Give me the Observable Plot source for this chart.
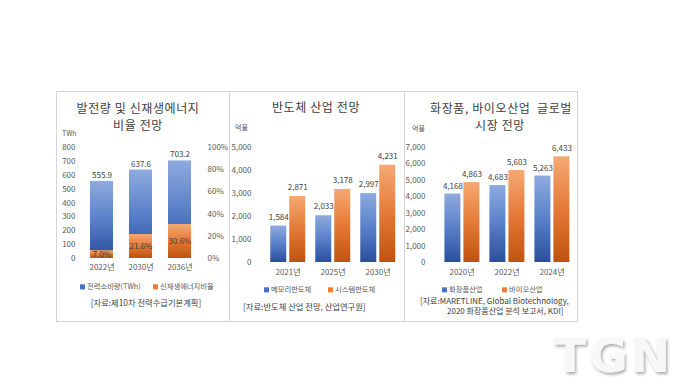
<!DOCTYPE html>
<html><head><meta charset="utf-8">
<script src="https://cdn.jsdelivr.net/npm/d3@7"></script>
<script src="https://cdn.jsdelivr.net/npm/@observablehq/plot@0.6"></script>
<style>
body{margin:0;background:#fff;width:700px;height:392px;position:relative;overflow:hidden;font-family:"Noto Sans CJK KR","Noto Sans",sans-serif;color:#404040}
.panel{position:absolute;border:1px solid #d4d4d4;box-sizing:border-box;background:#fff}
.t{position:absolute;white-space:nowrap;line-height:1}
.plot{position:absolute}
.sq{display:inline-block;width:5px;height:5px;margin-right:2px;vertical-align:middle;position:relative;top:-1px}
</style></head>
<body>
<svg width="0" height="0" style="position:absolute">
  <defs>
    <linearGradient id="gBlue" x1="0" y1="0" x2="0" y2="1">
      <stop offset="0" stop-color="#8eabdf"/>
      <stop offset="0.5" stop-color="#5a80c8"/>
      <stop offset="1" stop-color="#2a4e9c"/>
    </linearGradient>
    <linearGradient id="gOrange" x1="0" y1="0" x2="0" y2="1">
      <stop offset="0" stop-color="#f5a973"/>
      <stop offset="0.5" stop-color="#e47a38"/>
      <stop offset="1" stop-color="#bf520e"/>
    </linearGradient>
  </defs>
</svg>
<div class="panel" style="left:56px;top:91px;width:174px;height:231px"></div>
<div class="panel" style="left:229px;top:91px;width:176px;height:231px"></div>
<div class="panel" style="left:404px;top:91px;width:174px;height:231px"></div>
<script>
// ---- data ----
const years1 = ["2022년", "2030년", "2036년"];
const power = [555.9, 637.6, 703.2];          // TWh
const renewShare = [7.0, 21.6, 30.6];         // %
const ticks1L = [0, 100, 200, 300, 400, 500, 600, 700, 800];
const ticks1R = [0, 20, 40, 60, 80, 100];

const years2 = ["2021년", "2025년", "2030년"];
const series2 = ["메모리반도체", "시스템반도체"];
const memory = [1584, 2033, 2997];
const systemSemi = [2871, 3178, 4231];
const ticks2 = [0, 1000, 2000, 3000, 4000, 5000];

const years3 = ["2020년", "2022년", "2024년"];
const series3 = ["화장품산업", "바이오산업"];
const cosmetics = [4168, 4683, 5263];
const bio = [4863, 5603, 6433];
const ticks3 = [0, 1000, 2000, 3000, 4000, 5000, 6000, 7000];

const FONT = '"Noto Sans CJK KR","Noto Sans",sans-serif';
const comma = d3.format(",");

function place(html, x, y, opt = {}) {
  const el = document.createElement("div");
  el.className = "t";
  el.innerHTML = html;
  el.style.left = x + "px";
  el.style.top = y + "px";
  el.style.fontSize = (opt.size || 8) + "px";
  el.style.color = opt.color || "#404040";
  if (opt.ls) el.style.letterSpacing = opt.ls + "px";
  const tx = opt.anchor === "middle" ? "-50%" : opt.anchor === "end" ? "-100%" : "0";
  el.style.transform = `translate(${tx},-50%)`;
  document.body.appendChild(el);
}
function mount(svg, left, top) {
  const wrap = document.createElement("div");
  wrap.className = "plot";
  wrap.style.left = left + "px";
  wrap.style.top = top + "px";
  wrap.appendChild(svg);
  document.body.appendChild(wrap);
}
const baseStyle = {background: "transparent", fontSize: "8px", color: "#595959", fontFamily: FONT, overflow: "visible"};

// ---- Panel 1 ----
const d1 = years1.map((y, i) => ({year: y, power: power[i], share: renewShare[i]}));
const dims1 = {width: 173, height: 150, marginTop: 17, marginBottom: 22, marginLeft: 26, marginRight: 30};
const p1a = Plot.plot({
  ...dims1, style: baseStyle,
  x: {domain: years1, paddingInner: 0.41, paddingOuter: 0.205, label: null, tickSize: 0, tickPadding: 6},
  y: {domain: [0, 800], ticks: ticks1L, label: null, tickSize: 0, tickPadding: 7},
  marks: [
    Plot.barY(d1, {x: "year", y: "power", fill: "url(#gBlue)"}),
    Plot.text(d1, {x: "year", y: "power", text: d => d.power.toFixed(1), dy: -6, fill: "#404040", fontSize: 8})
  ]
});
const p1b = Plot.plot({
  ...dims1, style: baseStyle,
  x: {domain: years1, paddingInner: 0.41, paddingOuter: 0.205, axis: null},
  y: {domain: [0, 100], ticks: ticks1R, axis: "right", tickFormat: d => d + "%", label: null, tickSize: 0, tickPadding: 8},
  marks: [
    Plot.barY(d1, {x: "year", y: "share", fill: "url(#gOrange)"}),
    Plot.text(d1, {x: "year", y: d => d.share / 2, text: d => d.share.toFixed(1) + "%", fill: "#404040", fontSize: 8})
  ]
});
mount(p1a, 56, 130);
mount(p1b, 56, 130);
place("발전량 및 신재생에너지", 138, 108, {size: 12, anchor: "middle", ls: 0.6});
place("비율 전망", 138, 125, {size: 12, anchor: "middle", ls: 0.6});
place("TWh", 62, 133, {size: 7, color: "#595959"});
place('<span class="sq" style="background:#4472c4"></span>전력소비량(TWh)', 80, 287, {size: 7.3, color: "#595959"});
place('<span class="sq" style="background:#ed7d31"></span>신재생에너지비율', 153, 287, {size: 7.3, color: "#595959"});
place("[자료:제10차 전력수급기본계획]", 146, 302, {size: 8.3, anchor: "middle"});

// ---- Panel 2 ----
const d2 = years2.flatMap((y, i) => [
  {year: y, series: series2[0], value: memory[i]},
  {year: y, series: series2[1], value: systemSemi[i]}
]);
const p2 = Plot.plot({
  width: 175, height: 150, marginTop: 17, marginBottom: 18, marginLeft: 34.75, marginRight: 3.75,
  style: baseStyle,
  fx: {domain: years2, paddingInner: 0.187, paddingOuter: 0.0935, axis: "bottom", label: null, tickSize: 0, tickPadding: 7},
  x: {domain: series2, paddingInner: 0.158, paddingOuter: 0.05, axis: null},
  y: {domain: [0, 5000], ticks: ticks2, tickFormat: comma, label: null, tickSize: 0, tickPadding: 18},
  marks: [
    Plot.barY(d2.filter(d => d.series === series2[0]), {fx: "year", x: "series", y: "value", fill: "url(#gBlue)"}),
    Plot.barY(d2.filter(d => d.series === series2[1]), {fx: "year", x: "series", y: "value", fill: "url(#gOrange)"}),
    Plot.text(d2, {fx: "year", x: "series", y: "value", text: d => comma(d.value), dy: -9, fill: "#404040", fontSize: 8})
  ]
});
mount(p2, 229, 130);
place("반도체 산업 전망", 316, 107, {size: 12, anchor: "middle", ls: 0.6});
place("억불", 235, 127, {size: 7, color: "#595959"});
place('<span class="sq" style="background:#4472c4"></span>메모리반도체', 264, 290, {size: 7.3, color: "#595959"});
place('<span class="sq" style="background:#ed7d31"></span>시스템반도체', 328, 290, {size: 7.3, color: "#595959"});
place("[자료:반도체 산업 전망, 산업연구원]", 243, 306, {size: 8.3});

// ---- Panel 3 ----
const d3data = years3.flatMap((y, i) => [
  {year: y, series: series3[0], value: cosmetics[i]},
  {year: y, series: series3[1], value: bio[i]}
]);
const p3 = Plot.plot({
  width: 173, height: 150, marginTop: 17, marginBottom: 18, marginLeft: 33.6, marginRight: 2.15,
  style: baseStyle,
  fx: {domain: years3, paddingInner: 0.187, paddingOuter: 0.0935, axis: "bottom", label: null, tickSize: 0, tickPadding: 7},
  x: {domain: series3, paddingInner: 0.158, paddingOuter: 0.05, axis: null},
  y: {domain: [0, 7000], ticks: ticks3, tickFormat: comma, label: null, tickSize: 0, tickPadding: 18},
  marks: [
    Plot.barY(d3data.filter(d => d.series === series3[0]), {fx: "year", x: "series", y: "value", fill: "url(#gBlue)"}),
    Plot.barY(d3data.filter(d => d.series === series3[1]), {fx: "year", x: "series", y: "value", fill: "url(#gOrange)"}),
    Plot.text(d3data, {fx: "year", x: "series", y: "value", text: d => comma(d.value), dy: -8, fill: "#404040", fontSize: 8})
  ]
});
mount(p3, 404, 130);
place("화장품, 바이오산업&nbsp;&nbsp;글로벌", 501, 108, {size: 12, anchor: "middle", ls: 0.6});
place("시장 전망", 500, 125, {size: 12, anchor: "middle", ls: 0.6});
place("억불", 412, 128, {size: 7, color: "#595959"});
place('<span class="sq" style="background:#4472c4"></span>화장품산업', 442, 290, {size: 7.3, color: "#595959"});
place('<span class="sq" style="background:#ed7d31"></span>바이오산업', 502, 290, {size: 7.3, color: "#595959"});
place("[자료:MARETLINE, Global Biotechnology,", 420, 301, {size: 8});
place("2020 화장품산업 분석 보고서, KDI]", 447, 311, {size: 8});
</script>
<svg width="700" height="392" style="position:absolute;left:0;top:0;pointer-events:none">
  <defs><filter id="sh" x="-10%" y="-10%" width="130%" height="140%"><feDropShadow dx="1.5" dy="2" stdDeviation="1.5" flood-color="#000" flood-opacity="0.35"/></filter></defs>
  <text x="554" y="372" font-family="DejaVu Sans" font-weight="bold" font-size="47" letter-spacing="3" fill="#f7f7f7" filter="url(#sh)">TGN</text>
</svg>
</body></html>
